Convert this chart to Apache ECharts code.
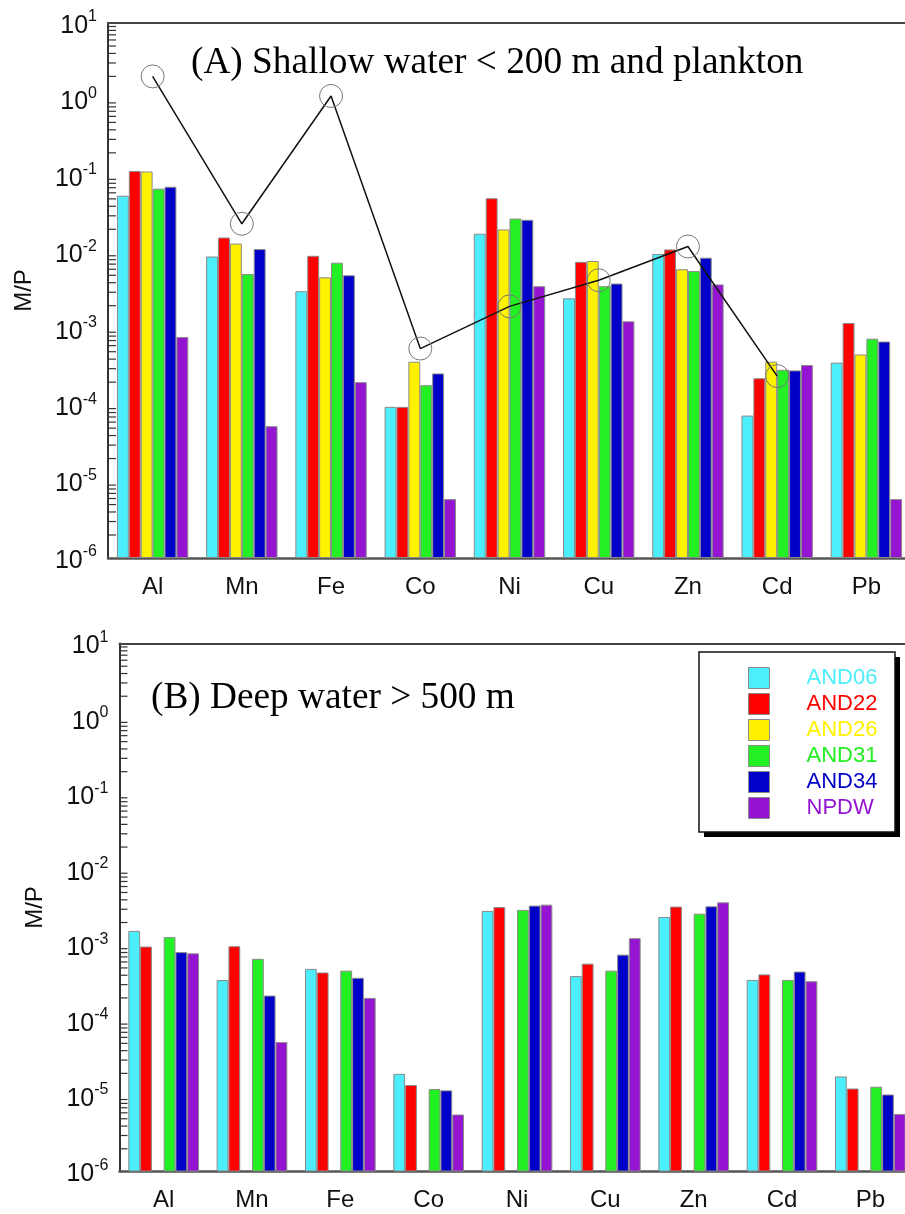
<!DOCTYPE html>
<html>
<head>
<meta charset="utf-8">
<script src="https://cdn.jsdelivr.net/npm/echarts@6/dist/echarts.min.js"></script>
<style>
  html, body { margin: 0; padding: 0; background: #fff; overflow: hidden; }
  #chart { width: 920px; height: 1214px; }
</style>
</head>
<body>
<div id="chart"></div>
<script>
var elements = ['Al', 'Mn', 'Fe', 'Co', 'Ni', 'Cu', 'Zn', 'Cd', 'Pb'];
var stations = ['AND06', 'AND22', 'AND26', 'AND31', 'AND34', 'NPDW'];
var colors = ['#4DEEFB', '#FF0000', '#FFF200', '#22F022', '#0000C8', '#9514D2'];

// (A) shallow water < 200 m
var shallowAND06 = [0.055, 0.0088, 0.0031, 9.5e-5, 0.0175, 0.0025, 0.0095, 7.3e-5, 3.6e-4];
var shallowAND22 = [0.116, 0.0156, 0.009, 9.5e-5, 0.051, 0.0075, 0.0109, 2.25e-4, 1.19e-3];
var shallowAND26 = [0.114, 0.013, 0.0047, 3.7e-4, 0.0199, 0.0077, 0.006, 3.7e-4, 4.6e-4];
var shallowAND31 = [0.068, 0.0052, 0.0073, 1.82e-4, 0.0276, 0.0036, 0.0057, 2.9e-4, 7.4e-4];
var shallowAND34 = [0.072, 0.011, 0.005, 2.6e-4, 0.0266, 0.0039, 0.0085, 2.85e-4, 6.8e-4];
var shallowNPDW = [7.8e-4, 5.3e-5, 2.0e-4, 5.9e-6, 3.6e-3, 1.25e-3, 3.8e-3, 3.35e-4, 5.9e-6];
var plankton = [2.0, 0.0236, 1.11, 5.5e-4, 1.96e-3, 4.3e-3, 0.0119, 2.4e-4, null];

// (B) deep water > 500 m
var deepAND06 = [1.55e-3, 3.45e-4, 4.85e-4, 1.97e-5, 2.85e-3, 3.9e-4, 2.37e-3, 3.47e-4, 1.82e-5];
var deepAND22 = [9.6e-4, 9.7e-4, 4.35e-4, 1.4e-5, 3.2e-3, 5.7e-4, 3.25e-3, 4.1e-4, 1.26e-5];
var deepAND26 = [null, null, null, null, null, null, null, null, null];
var deepAND31 = [1.28e-3, 6.6e-4, 4.6e-4, 1.24e-5, 2.94e-3, 4.6e-4, 2.62e-3, 3.47e-4, 1.33e-5];
var deepAND34 = [8.1e-4, 2.15e-4, 3.7e-4, 1.19e-5, 3.35e-3, 7.5e-4, 3.28e-3, 4.47e-4, 1.05e-5];
var deepNPDW = [7.8e-4, 5.2e-5, 2.0e-4, 5.7e-6, 3.45e-3, 1.24e-3, 3.7e-3, 3.33e-4, 5.8e-6];

// minor ticks of the log axis (2..9 per decade)
var decades = [1e-6, 1e-5, 1e-4, 1e-3, 1e-2, 1e-1, 1];
var minorSteps = [2, 3, 4, 5, 6, 7, 8, 9];

var shallow = [shallowAND06, shallowAND22, shallowAND26, shallowAND31, shallowAND34, shallowNPDW];
var deep = [deepAND06, deepAND22, deepAND26, deepAND31, deepAND34, deepNPDW];

var sans = 'Liberation Sans, Arial, sans-serif';
var serif = 'Liberation Serif, Times New Roman, serif';
var axisColor = '#333';

var minorValues = [];
decades.forEach(function (d) {
    minorSteps.forEach(function (m) { minorValues.push([0, d * m]); });
});

// the plot frames run past the right edge of the picture (it is cropped there)
var grids = [
    { left: 108, top: 23, width: 803, height: 535 },
    { left: 119.5, top: 643.5, width: 795, height: 528 }
];

var xAxes = [];
var yAxes = [];
grids.forEach(function (g, gi) {
    // bottom, boundary ticks + labels
    xAxes.push({
        type: 'category', gridIndex: gi, data: elements, position: 'bottom',
        axisLine: { lineStyle: { color: '#555', width: 2.5 } },
        axisTick: { inside: true, length: 15, interval: 0, lineStyle: { color: axisColor, width: 1.5 } },
        axisLabel: { fontFamily: sans, fontSize: 24, color: '#111', margin: 17, interval: 0 }
    });
    // bottom, center ticks
    xAxes.push({
        type: 'category', gridIndex: gi, data: elements, position: 'bottom',
        axisLine: { show: false },
        axisTick: { inside: true, length: 8, alignWithLabel: true, interval: 0, lineStyle: { color: axisColor, width: 1.5 } },
        axisLabel: { show: false }
    });
    // top, boundary ticks
    xAxes.push({
        type: 'category', gridIndex: gi, data: elements, position: 'top',
        axisLine: { lineStyle: { color: '#444', width: 2 } },
        axisTick: { inside: true, length: 14, interval: 0, lineStyle: { color: axisColor, width: 1.5 } },
        axisLabel: { show: false }
    });
    // top, center ticks
    xAxes.push({
        type: 'category', gridIndex: gi, data: elements, position: 'top',
        axisLine: { show: false },
        axisTick: { inside: true, length: 7, alignWithLabel: true, interval: 0, lineStyle: { color: axisColor, width: 1.5 } },
        axisLabel: { show: false }
    });
    yAxes.push({
        type: 'log', logBase: 10, gridIndex: gi, min: 1e-6, max: 10, startValue: 1e-6, position: 'left',
        name: 'M/P', nameLocation: 'middle', nameGap: 72,
        nameTextStyle: { fontFamily: sans, fontSize: 24, color: '#111' },
        axisLine: { show: true, lineStyle: { color: axisColor, width: 2 } },
        axisTick: { inside: true, length: 15, lineStyle: { color: axisColor, width: 1.5 } },
        splitLine: { show: false },
        axisLabel: {
            margin: 11,
            padding: [6, 0, 0, 0],
            formatter: function (v) {
                return '{b|10}{s|' + Math.round(Math.log10(v)) + '}';
            },
            rich: {
                b: { fontFamily: sans, fontSize: 25, color: '#111', lineHeight: 34 },
                s: { fontFamily: sans, fontSize: 16, color: '#111', lineHeight: 14, verticalAlign: 'top' }
            }
        }
    });
    yAxes.push({
        type: 'log', logBase: 10, gridIndex: gi, min: 1e-6, max: 10, startValue: 1e-6, position: 'right',
        axisLine: { show: true, lineStyle: { color: axisColor, width: 2 } },
        axisTick: { inside: true, length: 15, lineStyle: { color: axisColor, width: 1.5 } },
        splitLine: { show: false },
        axisLabel: { show: false }
    });
});

var series = [];
[shallow, deep].forEach(function (set, gi) {
    set.forEach(function (vals, si) {
        series.push({
            name: stations[si], type: 'bar',
            xAxisIndex: gi * 4, yAxisIndex: gi * 2,
            data: vals,
            barGap: '0%', barCategoryGap: '20%',
            itemStyle: { color: colors[si], borderColor: '#8a8a8a', borderWidth: 1 },
            silent: true
        });
    });
    series.push({
        type: 'custom', xAxisIndex: gi * 4, yAxisIndex: gi * 2,
        data: minorValues, silent: true, z: 5,
        renderItem: function (params, api) {
            var p = api.coord([api.value(0), api.value(1)]);
            var band = api.size([1, 0])[0];
            var x0 = p[0] - band / 2;
            return {
                type: 'line',
                shape: { x1: x0, y1: p[1], x2: x0 + 8, y2: p[1] },
                style: { stroke: axisColor, lineWidth: 1.2 }
            };
        }
    });
});
series.push({
    name: 'plankton', type: 'line',
    xAxisIndex: 0, yAxisIndex: 0,
    data: plankton,
    symbol: 'circle', symbolSize: 23,
    lineStyle: { color: '#111', width: 1.5 },
    itemStyle: { color: 'rgba(0,0,0,0)', borderColor: '#777', borderWidth: 1 },
    z: 10, silent: true
});

var chart = echarts.init(document.getElementById('chart'));
chart.setOption({
    animation: false,
    backgroundColor: '#fff',
    grid: grids,
    xAxis: xAxes,
    yAxis: yAxes,
    legend: {
        data: stations.map(function (s, i) {
            return { name: s, textStyle: { color: colors[i] } };
        }),
        orient: 'vertical', left: 699, top: 652, z: 30,
        icon: 'rect', itemWidth: 21, itemHeight: 21, itemGap: 4,
        padding: [15, 14, 15, 49],
        itemStyle: { borderColor: '#8a8a8a', borderWidth: 1 },
        textStyle: { fontFamily: sans, fontSize: 22, lineHeight: 21, padding: [0, 0, 0, 32] },
        selectedMode: false
    },
    graphic: [
        { type: 'text', left: 191, top: 45, z: 20,
          style: { text: '(A) Shallow water < 200 m and plankton', font: '37.3px ' + serif, fill: '#000' } },
        { type: 'text', left: 151, top: 680, z: 20,
          style: { text: '(B) Deep water > 500 m', font: '37.3px ' + serif, fill: '#000' } },
        // legend frame with drop shadow
        { type: 'rect', z: 25, shape: { x: 704, y: 657, width: 196, height: 180 },
          style: { fill: '#000' } },
        { type: 'rect', z: 26, shape: { x: 699, y: 652, width: 196, height: 180 },
          style: { fill: '#fff', stroke: '#111', lineWidth: 1.5 } }
    ],
    series: series
});
</script>
</body>
</html>
